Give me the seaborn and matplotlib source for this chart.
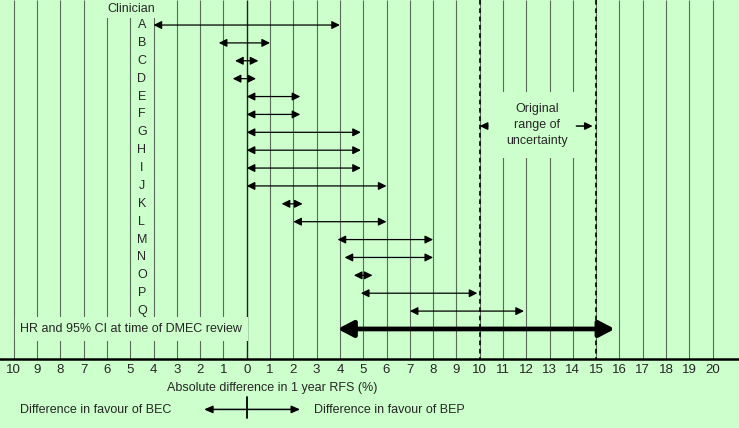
import numpy as np
import matplotlib
matplotlib.use('Agg')
import matplotlib.pyplot as plt
import seaborn as sns

sns.set_style('white')
plt.rcParams['font.family'] = ['Liberation Sans', 'DejaVu Sans']

# clinician estimates of the plausible range (absolute difference, %)
clinicians = list('ABCDEFGHIJKLMNOPQ')
low = [-4, -1.2, -0.5, -0.6, 0, 0, 0, 0, 0, 0, 1.5, 2, 3.9, 4.2, 4.6, 4.9, 7]
high = [4, 1, 0.5, 0.4, 2.3, 2.3, 4.9, 4.9, 4.9, 6, 2.4, 6, 8, 8, 5.4, 9.9, 11.9]

# HR and 95% CI at time of DMEC review
dmec_low, dmec_high = 3.9, 15.8

# original range of uncertainty
orig_range = [10, 15]

ticks = np.arange(-10, 21)
tick_labels = [str(abs(t)) for t in ticks]

bg = '#ccffcc'
W, H = 739, 428
fig = plt.figure(figsize=(W / 100, H / 100), dpi=100, facecolor=bg)
ax = fig.add_axes([0, 69 / H, 1, 359 / H])
ax.set_facecolor(bg)

ax.set_xlim(-10.59, 21.13)
ax.set_ylim(18.68, -1.40)

# vertical grid
ax.vlines(ticks[ticks != 0], -1.4, 18.68, color='#5a6b5a', lw=0.8, zorder=1)
ax.vlines(0, -1.4, 18.68, color='#1a261a', lw=1.0, zorder=1)
ax.vlines(orig_range, -1.4, 18.68, color='#111111', lw=1.3,
          linestyles=(0, (2.6, 2.0)), zorder=2)

# clinician rows
ax.text(-4.94, -0.9, 'Clinician', ha='center', va='center', fontsize=9,
        zorder=3, bbox=dict(boxstyle='square,pad=0.25', fc=bg, ec='none'))
for i, (name, lo, hi) in enumerate(zip(clinicians, low, high)):
    ax.text(-4.5, i, name, ha='center', va='center', fontsize=9, zorder=3)
    ax.annotate('', xy=(hi, i), xytext=(lo, i),
                arrowprops=dict(arrowstyle='<|-|>,head_length=0.48,head_width=0.24',
                                mutation_scale=10, lw=0.9, color='black',
                                shrinkA=0, shrinkB=0), zorder=4)

row = len(clinicians)
ax.text(-9.72, row, 'HR and 95% CI at time of DMEC review', ha='left',
        va='center', fontsize=9, zorder=3,
        bbox=dict(boxstyle='square,pad=0.45', fc=bg, ec='none'))
ax.annotate('', xy=(dmec_high, row), xytext=(dmec_low, row),
            arrowprops=dict(arrowstyle='<|-|>,head_length=0.42,head_width=0.22',
                            mutation_scale=22, lw=3.4, color='black',
                            shrinkA=0, shrinkB=0), zorder=4)

# original range of uncertainty label
ax.text(12.45, 5.6, 'Original\nrange of\nuncertainty', ha='center', va='center',
        fontsize=9, linespacing=1.45, zorder=3,
        bbox=dict(boxstyle='square,pad=0.9', fc=bg, ec='none'))
ax.add_patch(plt.Rectangle((10.25, 4.2), 4.5, 3.2, fc=bg, ec='none', zorder=2.5))
ax.annotate('', xy=(orig_range[0], 5.65), xytext=(10.35, 5.65),
            arrowprops=dict(arrowstyle='-|>,head_length=0.45,head_width=0.22',
                            mutation_scale=10, lw=1.1, color='black',
                            shrinkA=0, shrinkB=0), zorder=4)
ax.annotate('', xy=(orig_range[1] - 0.15, 5.65), xytext=(14.15, 5.65),
            arrowprops=dict(arrowstyle='-|>,head_length=0.45,head_width=0.22',
                            mutation_scale=10, lw=1.1, color='black',
                            shrinkA=0, shrinkB=0), zorder=4)

# axis
sns.despine(ax=ax, left=True, top=True, right=True)
ax.spines['bottom'].set_linewidth(1.8)
ax.spines['bottom'].set_color('black')
ax.set_xticks(ticks)
ax.set_xticklabels(tick_labels, fontsize=9.5)
ax.tick_params(axis='x', length=0, pad=3.5)
ax.set_yticks([])

ax.text(-3.42, 20.3, 'Absolute difference in 1 year RFS (%)', ha='left',
        va='center', fontsize=9, clip_on=False)
ax.text(-9.72, 21.55, 'Difference in favour of BEC', ha='left', va='center',
        fontsize=9, clip_on=False)
ax.text(2.9, 21.55, 'Difference in favour of BEP', ha='left', va='center',
        fontsize=9, clip_on=False)
arrow = dict(arrowstyle='-|>,head_length=0.5,head_width=0.22', mutation_scale=10,
             lw=1.1, color='black', shrinkA=0, shrinkB=0)
ax.annotate('', xy=(-1.83, 21.5), xytext=(-0.05, 21.5), arrowprops=arrow,
            annotation_clip=False)
ax.annotate('', xy=(2.29, 21.5), xytext=(0.05, 21.5), arrowprops=arrow,
            annotation_clip=False)
ax.plot([0, 0], [20.8, 22.0], color='black', lw=1.3, clip_on=False)

fig.savefig('out.png', dpi=100, facecolor=bg)
